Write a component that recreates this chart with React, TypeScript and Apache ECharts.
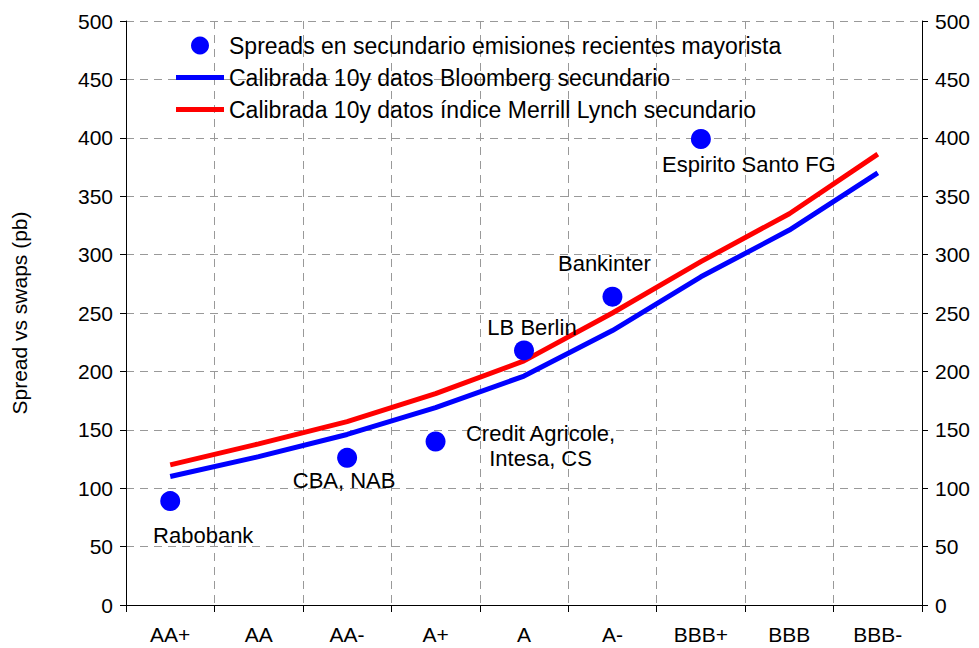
import React, { useEffect, useRef } from "react";
import * as echarts from "echarts";

const categories = ["AA+", "AA", "AA-", "A+", "A", "A-", "BBB+", "BBB", "BBB-"];
const bloomberg = [110, 127, 146, 169, 196, 235, 281, 321, 370];
const merrill = [120, 138, 157, 181, 209, 250, 294, 335, 386];
const spreadCats = ["AA+", "AA-", "A+", "A", "A-", "BBB+"];
const spreadValues = [89, 126, 140, 218, 264, 399];
const spreadNames = ["Rabobank", "CBA, NAB", "Credit Agricole,\nIntesa, CS", "LB Berlin", "Bankinter", "Espirito Santo FG"];
const yTicks = [0, 50, 100, 150, 200, 250, 300, 350, 400, 450, 500];

const seriesNames = [
  "Spreads en secundario emisiones recientes mayorista",
  "Calibrada 10y datos Bloomberg secundario",
  "Calibrada 10y datos índice Merrill Lynch secundario",
];

// label offsets (styling only)
const labelOffsets = [
  [33, 34],
  [-3, 23],
  [105, 5],
  [8, -23],
  [-8, -33],
  [48, 26],
];

const FONT = "'Liberation Sans', Arial, sans-serif";
const LINE_ICON = "path://M0,0 L48,0 L48,5 L0,5 Z";

export default function App() {
  const ref = useRef<HTMLDivElement>(null);
  useEffect(() => {
    if (!ref.current) return;
    const chart = echarts.init(ref.current, undefined, { renderer: "svg" });
    const gridLine = { show: true, lineStyle: { color: "#999999", type: [8, 6] as any, width: 1 } };
    const yAxisBase = {
      type: "value" as const,
      min: yTicks[0],
      max: yTicks[yTicks.length - 1],
      interval: 50,
      axisLine: { show: true, lineStyle: { color: "#000", width: 1 } },
      axisTick: { show: true, length: 6, lineStyle: { color: "#000" } },
      axisLabel: { color: "#000", fontSize: 21, fontFamily: FONT, margin: 13 },
    };
    chart.setOption({
      animation: false,
      textStyle: { fontFamily: FONT },
      grid: { left: 126, right: 57, top: 21, bottom: 43, containLabel: false },
      legend: {
        orient: "vertical",
        left: 176,
        top: 34,
        padding: 0,
        itemWidth: 48,
        itemHeight: 18,
        itemGap: 9,
        symbolKeepAspect: true,
        textStyle: { color: "#000", fontSize: 23, lineHeight: 18, fontFamily: FONT },
        data: [
          { name: seriesNames[0], icon: "circle" },
          { name: seriesNames[1], icon: LINE_ICON },
          { name: seriesNames[2], icon: LINE_ICON },
        ],
      },
      xAxis: {
        type: "category",
        data: categories,
        boundaryGap: true,
        axisLine: { show: true, lineStyle: { color: "#000", width: 1 } },
        axisTick: { show: true, length: 7, alignWithLabel: false, lineStyle: { color: "#000" } },
        axisLabel: { color: "#000", fontSize: 21, fontFamily: FONT, margin: 19 },
        splitLine: gridLine,
      },
      yAxis: [
        {
          ...yAxisBase,
          position: "left",
          name: "Spread vs swaps (pb)",
          nameLocation: "middle",
          nameRotate: 90,
          nameGap: 96,
          nameTextStyle: { color: "#000", fontSize: 21, fontFamily: FONT },
          splitLine: gridLine,
        },
        {
          ...yAxisBase,
          position: "right",
          axisTick: { show: true, length: 6, inside: false, lineStyle: { color: "#000" } },
          splitLine: { show: false },
        },
      ],
      series: [
        {
          name: seriesNames[0],
          type: "scatter",
          symbol: "circle",
          symbolSize: 20,
          itemStyle: { color: "#0000FF", opacity: 1 },
          z: 5,
          data: spreadCats.map((c, i) => ({
            value: [c, spreadValues[i]],
            label: {
              show: true,
              formatter: spreadNames[i],
              position: "inside",
              align: "center",
              verticalAlign: "middle",
              offset: labelOffsets[i],
              color: "#000",
              opacity: 1,
              fontSize: 22,
              lineHeight: 25,
              fontFamily: FONT,
            },
          })),
        },
        {
          name: seriesNames[1],
          type: "line",
          symbol: "none",
          data: bloomberg,
          lineStyle: { color: "#0000FF", width: 5 },
          itemStyle: { color: "#0000FF" },
          z: 3,
        },
        {
          name: seriesNames[2],
          type: "line",
          symbol: "none",
          data: merrill,
          lineStyle: { color: "#FF0000", width: 5 },
          itemStyle: { color: "#FF0000" },
          z: 4,
        },
      ],
    });
    return () => chart.dispose();
  }, []);
  return <div ref={ref} style={{ width: 979, height: 648, position: "absolute", left: 0, top: 0 }} />;
}
